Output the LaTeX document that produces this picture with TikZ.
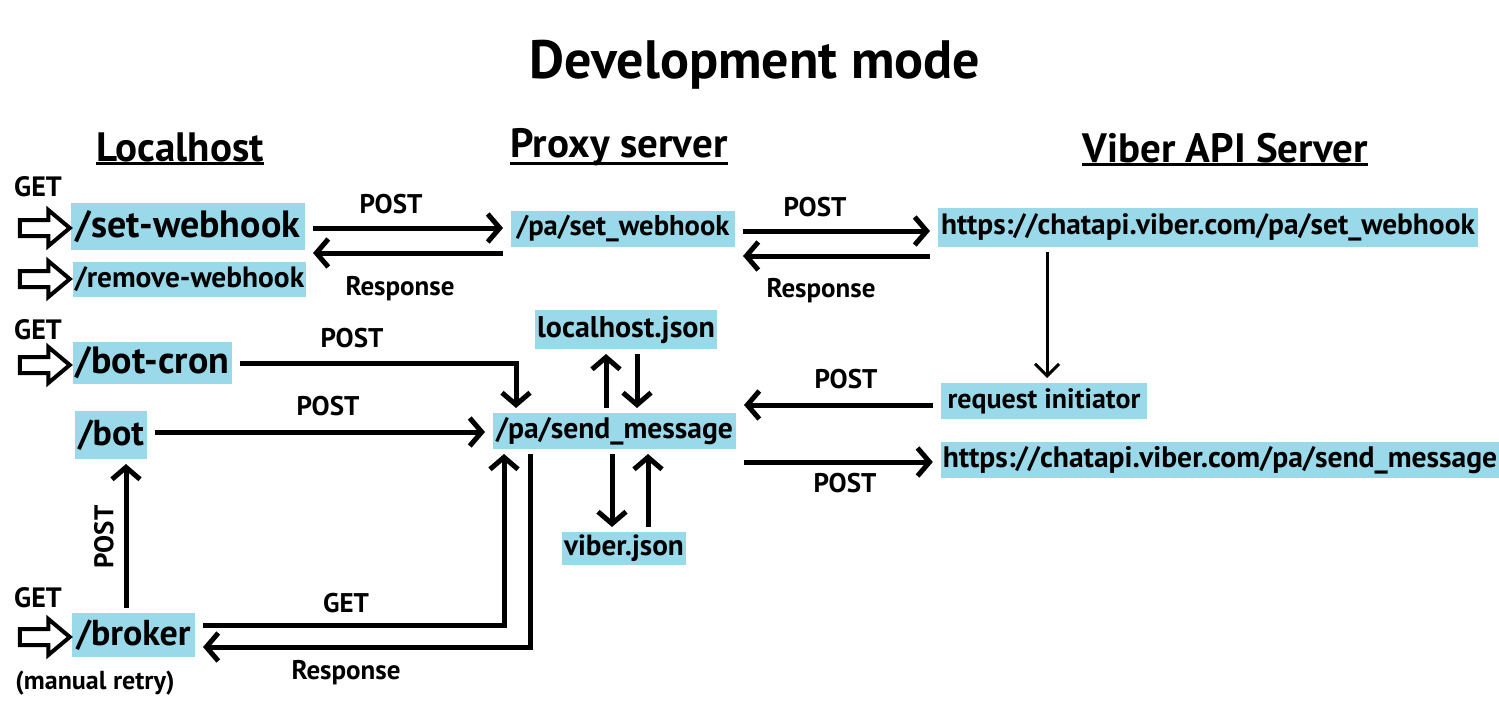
\documentclass[tikz,border=0pt]{standalone}
\usepackage{fontspec}
\setmainfont{PT Sans}
\usepackage{tikz}
\usetikzlibrary{positioning}
\usetikzlibrary{arrows.meta,shapes.arrows}
\definecolor{boxblue}{RGB}{153,217,234}
\tikzset{
  fs/.style={font=\bfseries\fontsize{#1}{#1}\selectfont},
  ep/.style={fill=boxblue, inner xsep=1pt, inner ysep=0pt, outer xsep=4pt, outer ysep=2.5pt},
  arr/.style={line width=2.5pt, -{Straight Barb[length=6pt,width=14pt]}},
  thinarr/.style={line width=1.5pt, -{Straight Barb[length=6pt,width=12pt]}},
  hollow/.style={single arrow, draw, line width=2pt, inner sep=3pt, minimum height=25pt,
    minimum width=17pt, single arrow head extend=5pt, single arrow tip angle=80},
  heading/.style={fs=20.5, inner sep=0pt},
  lbl/.style={fs=13.5}
}
\begin{document}
\begin{tikzpicture}[x=0.5pt, y=-0.5pt]
  \useasboundingbox (0,0) rectangle (1499,717);

  % Titles
  \node[fs=27] at (755,65) (title) {Development mode};
  \node[heading] at (180,147) (local) {Localhost};
  \node[heading] at (619,147) (proxy) {Proxy server};
  \node[heading] at (1225,148) (viber) {Viber API Server};
  \draw[line width=1.5pt] (local.west |- 0,163) -- (local.east |- 0,163);
  \draw[line width=1.5pt] (proxy.west |- 0,163) -- (proxy.east |- 0,163);
  \draw[line width=1.5pt] (viber.west |- 0,164) -- (viber.east |- 0,164);

  % Localhost nodes
  \node[ep, fs=19, minimum width=117pt, minimum height=23.5pt] at (188,226.5) (sethook) {/set-webhook};
  \node[ep, fs=14.7, minimum width=116.5pt, minimum height=17.5pt] at (189.5,279.5) (rmhook) {/remove-webhook};
  \node[ep, fs=19, minimum width=79.5pt, minimum height=21pt] at (152.5,363) (botcron) {/bot-cron};
  \node[ep, fs=18, minimum width=36pt, minimum height=24pt] at (111,435) (bot) {/bot};
  \node[ep, fs=18, minimum width=61.5pt, minimum height=22pt] at (133.5,635) (broker) {/broker};

  % Proxy nodes
  \node[ep, fs=14.3, minimum width=112pt, minimum height=18pt] at (623,229) (pasethook) {/pa/set\_webhook};
  \node[ep, fs=15, minimum width=89pt, minimum height=19.5pt] at (626,329.5) (lhjson) {localhost.json};
  \node[ep, fs=14.8, minimum width=121.5pt, minimum height=18pt] at (614.5,431) (pasend) {/pa/send\_message};
  \node[ep, fs=14.6, minimum width=62pt, minimum height=16.5pt] at (624,548.5) (viberjson) {viber.json};

  % Viber nodes
  \node[ep, fs=14.7, minimum width=270pt, minimum height=19.5pt] at (1208,227.5) (apihook) {https://chatapi.viber.com/pa/set\_webhook};
  \node[ep, fs=14, minimum width=103pt, minimum height=18pt] at (1044,401) (reqinit) {request initiator};
  \node[ep, fs=14.8, minimum width=278pt, minimum height=18pt] at (1220,460) (apisend) {https://chatapi.viber.com/pa/send\_message};

  % Entry arrows
  \node[hollow] at (40,228) (in1) {};
  \node[hollow] at (40,279) (in2) {};
  \node[hollow] at (40,365) (in3) {};
  \node[hollow] at (40,637) (in4) {};
  \node[fs=14] at (38,187) (get1) {GET};
  \node[fs=14] at (38,330) (get2) {GET};
  \node[fs=14] at (38,598) (get3) {GET};
  \node[fs=13] at (95,683) (retry) {(manual retry)};

  % Arrows
  \draw[arr] (sethook.east |- 0,228) -- (pasethook.west |- 0,228);
  \draw[arr] (pasethook.west |- 0,253) -- (sethook.east |- 0,253);
  \draw[arr] (pasethook.east |- 0,231) -- (apihook.west |- 0,231);
  \draw[arr] (apihook.west |- 0,256) -- (pasethook.east |- 0,256);
  \draw[arr] (botcron.east) -| (pasend.north -| 516,0);
  \draw[arr] (bot.east |- 0,432) -- (pasend.west |- 0,432);
  \draw[arr] (pasend.north -| 606,0) -- (lhjson.south -| 606,0);
  \draw[arr] (lhjson.south -| 637,0) -- (pasend.north -| 637,0);
  \draw[arr] (pasend.south -| 612,0) -- (viberjson.north -| 612,0);
  \draw[arr] (viberjson.north -| 648,0) -- (pasend.south -| 648,0);
  \draw[thinarr] (apihook.south -| 1047,0) -- (reqinit.north -| 1047,0);
  \draw[arr] (reqinit.west |- 0,405) -- (pasend.east |- 0,405);
  \draw[arr] (pasend.east |- 0,462) -- (apisend.west |- 0,462);
  \draw[arr] (broker.north -| 126,0) -- (bot.south -| 126,0);
  \draw[arr] (broker.east |- 0,625) -| (pasend.south -| 504,0);
  \draw[arr] (pasend.south -| 530,0) |- (broker.east |- 0,647);

  % Arrow labels
  \node[lbl] at (391,204) (post1) {POST};
  \node[lbl] at (400,289) (resp1) {Response};
  \node[lbl] at (815,207) (post2) {POST};
  \node[lbl] at (821,291) (resp2) {Response};
  \node[lbl] at (352,338) (post3) {POST};
  \node[lbl] at (328,406) (post4) {POST};
  \node[lbl] at (846,379) (post5) {POST};
  \node[lbl] at (845,483) (post6) {POST};
  \node[lbl, rotate=90] at (104,537) (post7) {POST};
  \node[lbl] at (346,603) (get4) {GET};
  \node[lbl] at (346,673) (resp3) {Response};
\end{tikzpicture}
\end{document}
